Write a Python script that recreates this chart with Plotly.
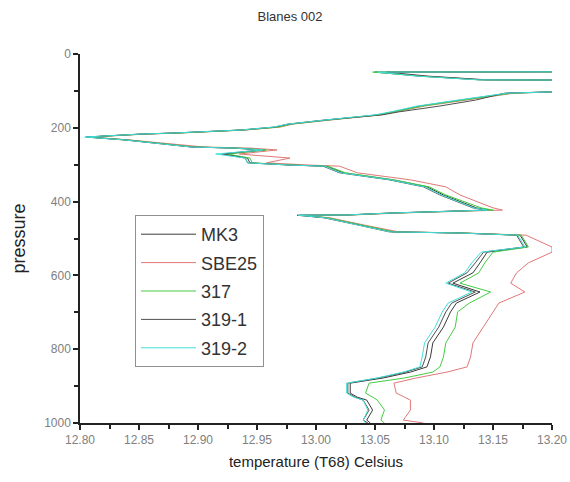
import plotly.graph_objects as go

# Pressure levels (dbar) shared by all sensor profiles
pressure = [48, 49, 60, 70, 71, 98, 103, 106, 125, 141,
            157, 165, 179, 190, 198, 206, 214, 217, 225, 233,
            252, 255, 260, 271, 282, 295, 301, 304, 322, 341,
            360, 382, 417, 423, 431, 436, 437, 444, 463, 482,
            485, 491, 523, 537, 566, 593, 621, 645, 675, 699,
            740, 783, 821, 848, 862, 878, 892, 919, 930, 938,
            965, 992, 1000]

# Temperature (T68, deg C) per sensor
t_mk3 = [13.25, 13.050, 13.088, 13.139, 13.25,
         13.25, 13.198, 13.164, 13.122, 13.088,
         13.065, 13.052, 13.009, 12.978, 12.967,
         12.938, 12.882, 12.853, 12.806, 12.840,
         12.896, 12.933, 12.957, 12.923, 12.942,
         12.944, 12.980, 13.009, 13.023, 13.065,
         13.094, 13.108, 13.136, 13.147, 13.065,
         13.029, 12.986, 13.009, 13.037, 13.065,
         13.122, 13.173, 13.179, 13.145, 13.139,
         13.133, 13.116, 13.139, 13.119, 13.114,
         13.108, 13.099, 13.097, 13.094, 13.080,
         13.057, 13.029, 13.029, 13.035, 13.043,
         13.048, 13.043, 13.046]

t_sbe25 = [13.25, 13.055, 13.092, 13.142, 13.25,
           13.25, 13.200, 13.168, 13.127, 13.092,
           13.068, 13.055, 13.012, 12.980, 12.970,
           12.940, 12.885, 12.856, 12.808, 12.842,
           12.905, 12.945, 12.967, 12.935, 12.978,
           12.958, 12.995, 13.020, 13.035, 13.080,
           13.110, 13.122, 13.150, 13.158, 13.070,
           13.032, 12.990, 13.012, 13.040, 13.070,
           13.125, 13.178, 13.200, 13.200, 13.180,
           13.170, 13.165, 13.177, 13.155, 13.150,
           13.142, 13.133, 13.131, 13.128, 13.111,
           13.085, 13.066, 13.068, 13.075, 13.080,
           13.080, 13.074, 13.091]

t_317 = [13.25, 13.048, 13.090, 13.140, 13.25,
         13.25, 13.199, 13.166, 13.124, 13.090,
         13.066, 13.053, 13.010, 12.979, 12.968,
         12.939, 12.884, 12.854, 12.807, 12.841,
         12.897, 12.934, 12.958, 12.925, 12.944,
         12.946, 12.982, 13.010, 13.025, 13.066,
         13.096, 13.110, 13.140, 13.150, 13.066,
         13.030, 12.988, 13.010, 13.038, 13.066,
         13.123, 13.174, 13.180, 13.150, 13.143,
         13.138, 13.122, 13.148, 13.130, 13.120,
         13.118, 13.110, 13.108, 13.105, 13.099,
         13.075, 13.045, 13.042, 13.048, 13.052,
         13.058, 13.055, 13.058]

t_319_1 = [13.25, 13.060, 13.095, 13.145, 13.25,
           13.25, 13.196, 13.160, 13.135, 13.105,
           13.070, 13.056, 13.007, 12.976, 12.965,
           12.936, 12.880, 12.851, 12.805, 12.838,
           12.894, 12.930, 12.953, 12.920, 12.940,
           12.942, 12.978, 13.006, 13.020, 13.062,
           13.091, 13.105, 13.133, 13.144, 13.062,
           13.027, 12.984, 13.007, 13.035, 13.062,
           13.120, 13.170, 13.176, 13.142, 13.135,
           13.128, 13.112, 13.135, 13.115, 13.110,
           13.104, 13.095, 13.093, 13.090, 13.076,
           13.053, 13.027, 13.027, 13.033, 13.040,
           13.045, 13.040, 13.044]

t_319_2 = [13.25, 13.052, 13.086, 13.137, 13.25,
           13.25, 13.197, 13.162, 13.120, 13.086,
           13.063, 13.050, 13.007, 12.976, 12.964,
           12.936, 12.880, 12.851, 12.804, 12.838,
           12.894, 12.931, 12.955, 12.915, 12.940,
           12.942, 12.978, 13.007, 13.021, 13.063,
           13.092, 13.106, 13.134, 13.145, 13.063,
           13.027, 12.985, 13.008, 13.035, 13.063,
           13.120, 13.171, 13.177, 13.140, 13.132,
           13.126, 13.110, 13.132, 13.112, 13.107,
           13.101, 13.092, 13.090, 13.088, 13.074,
           13.052, 13.026, 13.026, 13.032, 13.040,
           13.044, 13.040, 13.042]

series_names = ["MK3", "SBE25", "317", "319-1", "319-2"]
series_temps = [t_mk3, t_sbe25, t_317, t_319_1, t_319_2]
series_colors = ["#3a3a3a", "#e07878", "#44cc44", "#505050", "#40e0d8"]

x_ticks = [12.80, 12.85, 12.90, 12.95, 13.00, 13.05, 13.10, 13.15, 13.20]
x_tick_labels = ["12.80", "12.85", "12.90", "12.95", "13.00",
                 "13.05", "13.10", "13.15", "13.20"]
y_ticks = [0, 200, 400, 600, 800, 1000]

FONT = "Liberation Sans, Arial, sans-serif"

fig = go.Figure()
for i, (name, temps, color) in enumerate(zip(series_names, series_temps, series_colors)):
    fig.add_trace(go.Scatter(
        x=temps, y=pressure, mode="lines", name=name,
        line=dict(color=color, width=1),
        legendgroup=f"g{i}",
    ))

fig.update_layout(
    width=570, height=482,
    margin=dict(l=80, r=18, t=54, b=59, autoexpand=False),
    paper_bgcolor="white", plot_bgcolor="white",
    font=dict(family=FONT, color="#333333"),
    title=dict(text="Blanes 002", x=290 / 570, xanchor="center",
               y=1 - 16 / 482, yanchor="middle", xref="container", yref="container",
               font=dict(size=13, color="#333333")),
    showlegend=True,
    legend=dict(x=(135 - 80) / 472, y=(423 - 215) / 369, xanchor="left", yanchor="top",
                bordercolor="#909090", borderwidth=1, bgcolor="rgba(255,255,255,0)",
                font=dict(size=18, color="#333333"), tracegroupgap=2,
                itemwidth=55),
)

fig.update_xaxes(
    range=[12.80, 13.20], tickvals=x_ticks, ticktext=x_tick_labels, automargin=False,
    showgrid=False, zeroline=False, showline=True, linecolor="#222222", linewidth=1.5,
    ticks="outside", ticklen=5, tickcolor="#222222", tickwidth=1.5,
    tickfont=dict(size=12, color="#808080"),
    minor=dict(dtick=0.025, ticks="outside", ticklen=4, tickcolor="#222222", tickwidth=1.5),
    title=dict(text="temperature (T68) Celsius", font=dict(size=15, color="#222222"), standoff=10),
)
fig.update_yaxes(
    range=[1000, 0], tickvals=y_ticks, automargin=False,
    showgrid=False, zeroline=False, showline=True, linecolor="#222222", linewidth=1.5,
    ticks="outside", ticklen=5, tickcolor="#222222", tickwidth=1.5,
    tickfont=dict(size=12, color="#808080"),
    minor=dict(dtick=100, ticks="outside", ticklen=4, tickcolor="#222222", tickwidth=1.5),
    title=dict(text="pressure", font=dict(size=18, color="#222222"), standoff=14),
)

fig.write_html("out.html")
